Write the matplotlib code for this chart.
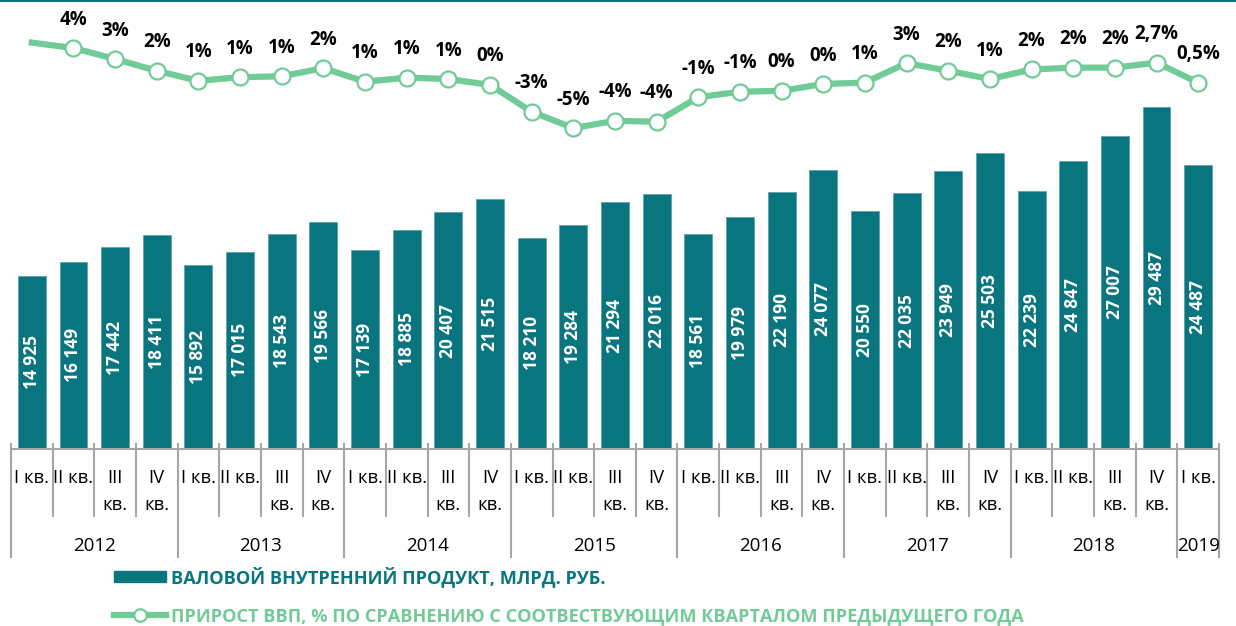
import matplotlib
matplotlib.use("Agg")
import matplotlib.pyplot as plt
from matplotlib.lines import Line2D
from matplotlib.patches import Patch
import matplotlib.transforms as mtransforms

plt.rcParams['font.family'] = ['Open Sans', 'DejaVu Sans']

# ---- data ----
years = ["2012", "2013", "2014", "2015", "2016", "2017", "2018", "2019"]
quarters_per_year = [4, 4, 4, 4, 4, 4, 4, 1]
quarter_labels = ["I кв.", "II кв.", "III\nкв.", "IV\nкв."]
gdp = [14925, 16149, 17442, 18411,
       15892, 17015, 18543, 19566,
       17139, 18885, 20407, 21515,
       18210, 19284, 21294, 22016,
       18561, 19979, 22190, 24077,
       20550, 22035, 23949, 25503,
       22239, 24847, 27007, 29487,
       24487]
growth = [4.9, 4.3, 3.1, 1.8, 0.7,
          1.1, 1.2, 2.1, 0.6,
          1.05, 0.9, 0.25, -2.7,
          -4.5, -3.7, -3.8, -1.1,
          -0.5, -0.4, 0.35, 0.5,
          2.65, 1.8, 0.9, 1.95,
          2.15, 2.15, 2.7, 0.5]
growth_labels = [None, "4%", "3%", "2%", "1%",
                 "1%", "1%", "2%", "1%",
                 "1%", "1%", "0%", "-3%",
                 "-5%", "-4%", "-4%", "-1%",
                 "-1%", "0%", "0%", "1%",
                 "3%", "2%", "1%", "2%",
                 "2%", "2%", "2,7%", "0,5%"]
legend_labels = ["ВАЛОВОЙ ВНУТРЕННИЙ ПРОДУКТ, МЛРД. РУБ.",
                 "ПРИРОСТ ВВП, % ПО СРАВНЕНИЮ С СООТВЕСТВУЮЩИМ КВАРТАЛОМ ПРЕДЫДУЩЕГО ГОДА"]

TEAL = "#08757F"
GREEN = "#70CB97"
GRAY = "#A6A6A6"

W, H = 1236, 626
fig = plt.figure(figsize=(W / 100, H / 100), dpi=100)
ax_left, ax_right_px = 11, 1219
ax_bottom_px, ax_top_px = 449, 10
ax = fig.add_axes([ax_left / W, 1 - ax_bottom_px / H,
                   (ax_right_px - ax_left) / W, (ax_bottom_px - ax_top_px) / H])
n = len(gdp)
x = list(range(n))

ax.bar(x, gdp, width=0.67, color=TEAL, edgecolor="#5FA3A9", linewidth=0.6, zorder=2)
ax.set_xlim(-0.5, n - 0.5)
ax.set_ylim(0, 37850)
for xi, v in zip(x, gdp):
    s = f"{v:,}".replace(",", " ")
    ax.text(xi, v / 2, s, rotation=90, ha="center", va="center", color="white",
            fontsize=12.5, fontweight="bold", zorder=3)

for sp in ["top", "right", "left"]:
    ax.spines[sp].set_visible(False)
ax.spines["bottom"].set_color(GRAY)
ax.spines["bottom"].set_linewidth(1.5)
ax.set_yticks([])
ax.set_xticks([])

# category axis decorations
trans = mtransforms.blended_transform_factory(ax.transData, ax.transAxes)
hpx = ax_bottom_px - ax_top_px
def fy(px):  # pixel (from top of figure) -> axes fraction
    return (ax_bottom_px - px) / hpx

boundaries = []
k = 0
for q in quarters_per_year:
    boundaries.append(k)
    k += q
boundaries.append(k)
for b in range(n + 1):
    y_end = fy(558) if b in boundaries else fy(517)
    ax.plot([b - 0.5, b - 0.5], [fy(443), y_end], transform=trans, color=GRAY,
            lw=1.5, clip_on=False, solid_capstyle="butt")

for i in range(n):
    lab = quarter_labels[i % 4] if i < 28 else quarter_labels[0]
    for j, line in enumerate(lab.split("\n")):
        ax.text(i, fy(478 + 27 * j), line, transform=trans, ha="center", va="center",
                fontsize=13.3, color="black", clip_on=False)

k = 0
for yr, q in zip(years, quarters_per_year):
    ax.text(k + (q - 1) / 2, fy(546), yr, transform=trans, ha="center", va="center",
            fontsize=13.5, color="black", clip_on=False)
    k += q

# growth line
ax2 = ax.twinx()
ax2.set_ylim(-39.8, 8.49)
ax2.axis("off")
ax2.plot(x, growth, color=GREEN, lw=4.5, zorder=3, solid_joinstyle="round")
ax2.plot(x[1:], growth[1:], ls="none", marker="o", ms=11.5, mfc="white", mec=GREEN,
         mew=1.6, zorder=4)
for xi, v, lab in zip(x, growth, growth_labels):
    if lab is None:
        continue
    ax2.annotate(lab, (xi, v), xytext=(0, 20.5), textcoords="offset points",
                 ha="center", va="center", fontsize=13.5, fontweight="bold", color="black")

# top border line
fig.add_artist(Line2D([0, 1], [0.999, 0.999], transform=fig.transFigure, color=TEAL, lw=1.5))

# legend
handles = [Patch(facecolor=TEAL, edgecolor=TEAL),
           Line2D([0], [0], color=GREEN, lw=4.5, marker="o", ms=9, mfc="white", mec=GREEN, mew=1.6)]
leg = fig.legend(handles, legend_labels, loc="upper left",
                 bbox_to_anchor=(114 / W, 1 - 566 / H), frameon=False,
                 prop={"size": 13.1, "weight": "bold"}, handlelength=2.85,
                 handleheight=0.62, handletextpad=0.3, labelspacing=1.1,
                 labelcolor=[TEAL, GREEN], borderaxespad=0, borderpad=0)

fig.savefig("out.png", dpi=100)
